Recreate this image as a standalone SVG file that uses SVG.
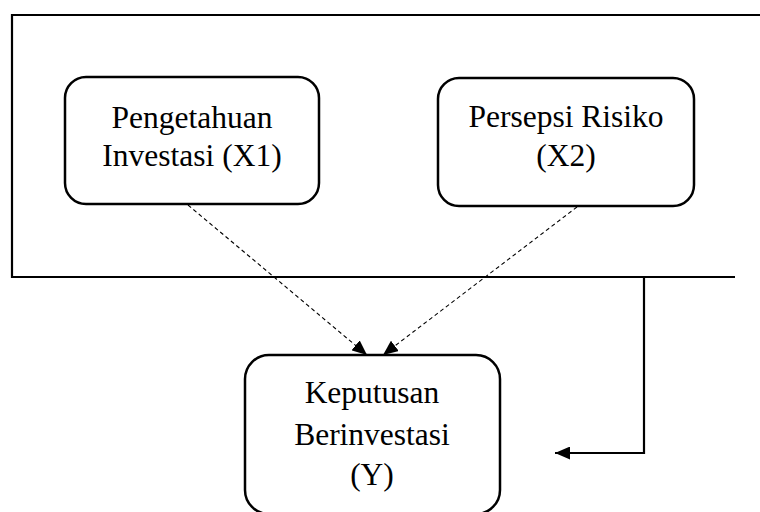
<svg xmlns="http://www.w3.org/2000/svg" width="760" height="512" viewBox="0 0 760 512">
<style>
.box{fill:#fff;stroke:#000;stroke-width:2.5}
.lbl{font-family:"Liberation Serif","Times New Roman",serif;font-size:31.5px;fill:#000;text-anchor:middle}
.frame{fill:none;stroke:#000;stroke-width:2.2}
.dash{fill:none;stroke:#000;stroke-width:1.1;stroke-dasharray:4 3}
.solid{fill:none;stroke:#000;stroke-width:2.2}
</style>
<defs>
<marker id="ah" viewBox="0 0 15 13" refX="15" refY="6.5" markerWidth="15" markerHeight="13" markerUnits="userSpaceOnUse" orient="auto">
<path d="M0,0 L15,6.5 L0,13 Z" fill="#000"/>
</marker>
</defs>
<g id="frame">
<path class="frame" d="M760,15 H12 V277 H735"/>
</g>
<g id="connectors">
<line class="dash" x1="188" y1="205" x2="367" y2="355" marker-end="url(#ah)"/>
<line class="dash" x1="577" y1="207" x2="383" y2="355" marker-end="url(#ah)"/>
<path class="solid" d="M644,277 V453 H555" marker-end="url(#ah)"/>
</g>
<g id="node-x1">
<rect class="box" x="65" y="77" width="254" height="127" rx="21"/>
<text class="lbl" x="192" y="128">Pengetahuan</text>
<text class="lbl" x="192" y="166">Investasi (X1)</text>
</g>
<g id="node-x2">
<rect class="box" x="438" y="78" width="256" height="128" rx="21"/>
<text class="lbl" x="566" y="127">Persepsi Risiko</text>
<text class="lbl" x="566" y="166">(X2)</text>
</g>
<g id="node-y">
<rect class="box" x="245" y="355" width="255" height="159" rx="24"/>
<text class="lbl" x="372" y="403">Keputusan</text>
<text class="lbl" x="372" y="445">Berinvestasi</text>
<text class="lbl" x="372" y="485">(Y)</text>
</g>
</svg>
